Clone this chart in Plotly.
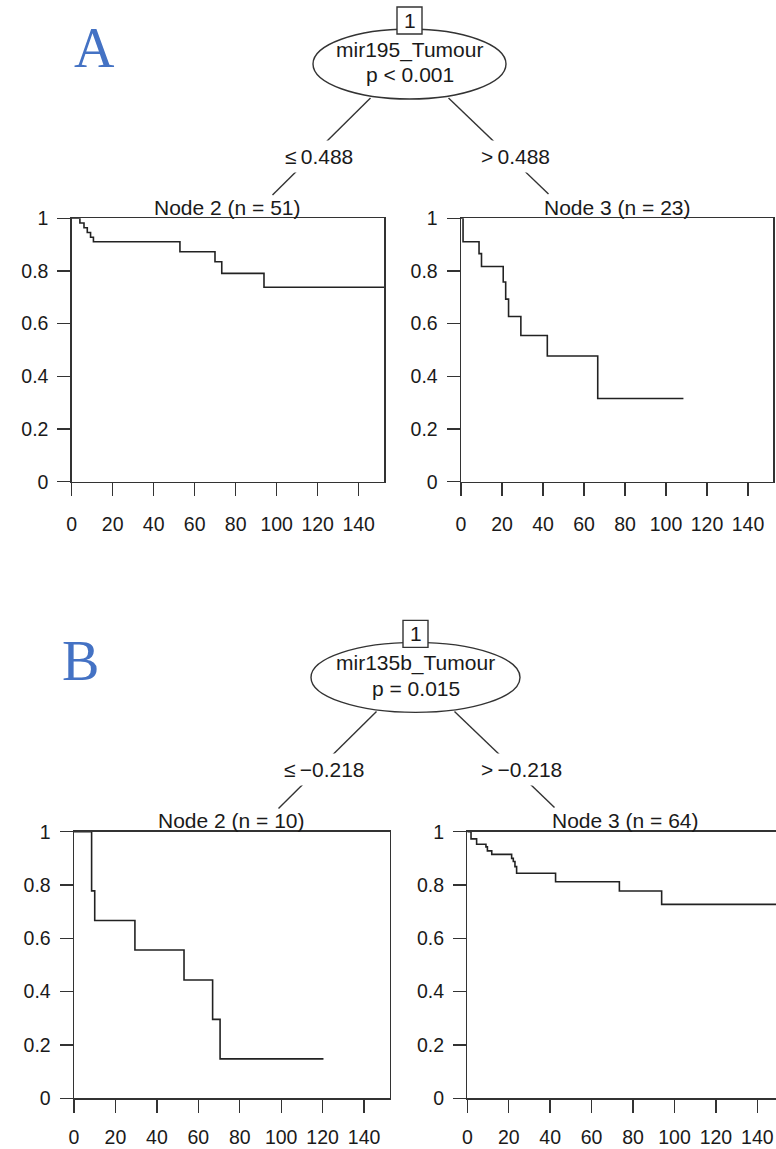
import plotly.graph_objects as go

# ---------------- data ----------------
x_ticks = [0, 20, 40, 60, 80, 100, 120, 140]
y_ticks = [0, 0.2, 0.4, 0.6, 0.8, 1]
y_tick_labels = ["0", "0.2", "0.4", "0.6", "0.8", "1"]

# Panel A, node 2 (mir195 <= 0.488, n = 51)
a2_time = [0, 4.0, 6.0, 7.6, 9.2, 10.6, 52.8, 69.9, 73.2, 93.8, 152.4]
a2_surv = [1, 0.982, 0.964, 0.946, 0.928, 0.911, 0.873, 0.835, 0.791, 0.738, 0.738]
# Panel A, node 3 (mir195 > 0.488, n = 23)
a3_time = [0, 1.0, 8.8, 10.0, 20.6, 21.8, 23.2, 29.2, 42.1, 66.7, 108.5]
a3_surv = [1, 0.911, 0.866, 0.817, 0.758, 0.693, 0.627, 0.555, 0.477, 0.316, 0.316]
# Panel B, node 2 (mir135b <= -0.218, n = 10)
b2_time = [0, 8.5, 10.0, 29.4, 53.1, 66.9, 70.5, 120.4]
b2_surv = [1, 0.778, 0.667, 0.556, 0.444, 0.296, 0.148, 0.148]
# Panel B, node 3 (mir135b > -0.218, n = 64)
b3_time = [0, 1.8, 4.5, 9.0, 9.7, 11.8, 21.4, 22.2, 23.0, 23.8, 42.6, 73.4, 93.8, 149.0]
b3_surv = [1, 0.973, 0.953, 0.943, 0.928, 0.915, 0.900, 0.888, 0.869, 0.844, 0.8125, 0.7775, 0.7275, 0.7275]

titles = ["Node 2 (n = 51)", "Node 3 (n = 23)", "Node 2 (n = 10)", "Node 3 (n = 64)"]
split_vars = ["mir195_Tumour", "mir135b_Tumour"]
p_values = ["p &lt; 0.001", "p = 0.015"]
left_labels = ["\u2264\u20090.488", "\u2264\u2009\u22120.218"]
right_labels = ["&gt;\u20090.488", "&gt;\u2009\u22120.218"]
panel_letters = ["A", "B"]

# ---------------- layout geometry (pixels) ----------------
W, H = 776, 1149
XMAX = 152.4


def fx(x):
    return x / W


def fy(y):
    return 1 - y / H


# (left px, px per unit, top px, bottom px, xmax, right border, x-label standoff)
panels = [
    (71.7, 2.05, 218.3, 481.7, XMAX, True, 11),
    (461.0, 2.05, 218.3, 481.7, XMAX, True, 11),
    (74.0, 2.072, 831.7, 1098.3, XMAX, True, 8),
    (467.3, 2.072, 831.7, 1098.3, (776 - 467.3) / 2.072, False, 8),
]
series = [(a2_time, a2_surv), (a3_time, a3_surv), (b2_time, b2_surv), (b3_time, b3_surv)]

FONT = "Liberation Sans, Arial, sans-serif"
INK = "#1a1a1a"
LINE = "#333333"

fig = go.Figure()
layout = dict(
    width=W, height=H,
    margin=dict(l=0, r=0, t=0, b=0),
    paper_bgcolor="white", plot_bgcolor="white",
    showlegend=False,
    font=dict(family=FONT, color=INK, size=19),
)
annotations = []
shapes = []

for i, ((left, scale, top, bottom, xmax, rborder, xstand), (t, s)) in enumerate(zip(panels, series)):
    k = "" if i == 0 else str(i + 1)
    right = min(left + xmax * scale, W)
    fig.add_trace(go.Scatter(
        x=t, y=s, mode="lines", line=dict(color="#222222", width=1.6, shape="hv"),
        xaxis="x" + k, yaxis="y" + k, hoverinfo="skip"))
    layout["xaxis" + k] = dict(
        domain=[fx(left), fx(right)], range=[0, xmax], anchor="y" + k,
        tickvals=x_ticks, ticktext=[str(v) for v in x_ticks],
        ticks="outside", ticklen=13, tickwidth=1.4, tickcolor=LINE,
        showline=True, linecolor=LINE, linewidth=1.4, mirror=True,
        showgrid=False, zeroline=False, fixedrange=True, automargin=False,
        tickfont=dict(size=19.5, family=FONT, color=INK), ticklabelstandoff=xstand,
    )
    layout["yaxis" + k] = dict(
        domain=[fy(bottom), fy(top)], range=[0, 1], anchor="x" + k,
        tickvals=y_ticks, ticktext=y_tick_labels,
        ticks="outside", ticklen=13, tickwidth=1.4, tickcolor=LINE,
        showline=True, linecolor=LINE, linewidth=1.4, mirror=rborder,
        showgrid=False, zeroline=False, fixedrange=True, automargin=False,
        tickfont=dict(size=19.5, family=FONT, color=INK), ticklabelstandoff=5,
    )
    tcx = (left + left + XMAX * scale) / 2
    annotations.append(dict(
        text=titles[i], xref="paper", yref="paper", x=fx(tcx), y=fy(207 + (613.4 if i >= 2 else 0)),
        xanchor="center", yanchor="middle", showarrow=False,
        font=dict(size=21, family=FONT, color=INK)))

# ---------------- tree parts ----------------
trees = [
    dict(dy=0.0, cx=409.5, rx=96.5),
    dict(dy=613.4, cx=415.5, rx=104.5),
]
for j, tr in enumerate(trees):
    dy, cx, rx = tr["dy"], tr["cx"], tr["rx"]
    # edges
    shapes.append(dict(type="line", xref="paper", yref="paper",
                       x0=fx(cx - 39), y0=fy(98 + dy), x1=fx(cx - 137), y1=fy(195 + dy),
                       line=dict(color=LINE, width=1.4)))
    shapes.append(dict(type="line", xref="paper", yref="paper",
                       x0=fx(cx + 39), y0=fy(98 + dy), x1=fx(cx + 139), y1=fy(194 + dy),
                       line=dict(color=LINE, width=1.4)))
    # ellipse
    shapes.append(dict(type="circle", xref="paper", yref="paper",
                       x0=fx(cx - rx), x1=fx(cx + rx), y0=fy(29 + dy), y1=fy(99 + dy),
                       line=dict(color=LINE, width=1.4), fillcolor="white"))
    # id box
    shapes.append(dict(type="rect", xref="paper", yref="paper",
                       x0=fx(cx - 12.5), x1=fx(cx + 12.5), y0=fy(7 + dy), y1=fy(34 + dy),
                       line=dict(color=LINE, width=1.4), fillcolor="white"))
    annotations.append(dict(text="1", xref="paper", yref="paper", x=fx(cx), y=fy(20.5 + dy),
                            xanchor="center", yanchor="middle", showarrow=False,
                            font=dict(size=21, family=FONT, color=INK)))
    annotations.append(dict(text=split_vars[j], xref="paper", yref="paper", x=fx(cx), y=fy(50 + dy),
                            xanchor="center", yanchor="middle", showarrow=False,
                            font=dict(size=21, family=FONT, color=INK)))
    annotations.append(dict(text=p_values[j], xref="paper", yref="paper", x=fx(cx), y=fy(75 + dy),
                            xanchor="center", yanchor="middle", showarrow=False,
                            font=dict(size=21, family=FONT, color=INK)))
    annotations.append(dict(text=left_labels[j], xref="paper", yref="paper", x=fx(cx - 91), y=fy(156 + dy),
                            xanchor="center", yanchor="middle", showarrow=False, bgcolor="white",
                            borderpad=4, font=dict(size=21, family=FONT, color=INK)))
    annotations.append(dict(text=right_labels[j], xref="paper", yref="paper", x=fx(cx + 106), y=fy(156 + dy),
                            xanchor="center", yanchor="middle", showarrow=False, bgcolor="white",
                            borderpad=4, font=dict(size=21, family=FONT, color=INK)))
    # panel letter
    annotations.append(dict(text=panel_letters[j], xref="paper", yref="paper",
                            x=fx(94 if j == 0 else 80), y=fy(48 + dy),
                            xanchor="center", yanchor="middle", showarrow=False,
                            font=dict(size=56, family="Liberation Serif, Times New Roman, serif",
                                      color="#4472C4")))

layout["annotations"] = annotations
layout["shapes"] = shapes
fig.update_layout(**layout)
fig.write_html(
    "out.html",
    config={"displayModeBar": False, "staticPlot": True},
    post_script="document.body.style.margin='0';document.body.style.padding='0';"
                "document.documentElement.style.overflow='hidden';document.body.style.overflow='hidden';",
)
